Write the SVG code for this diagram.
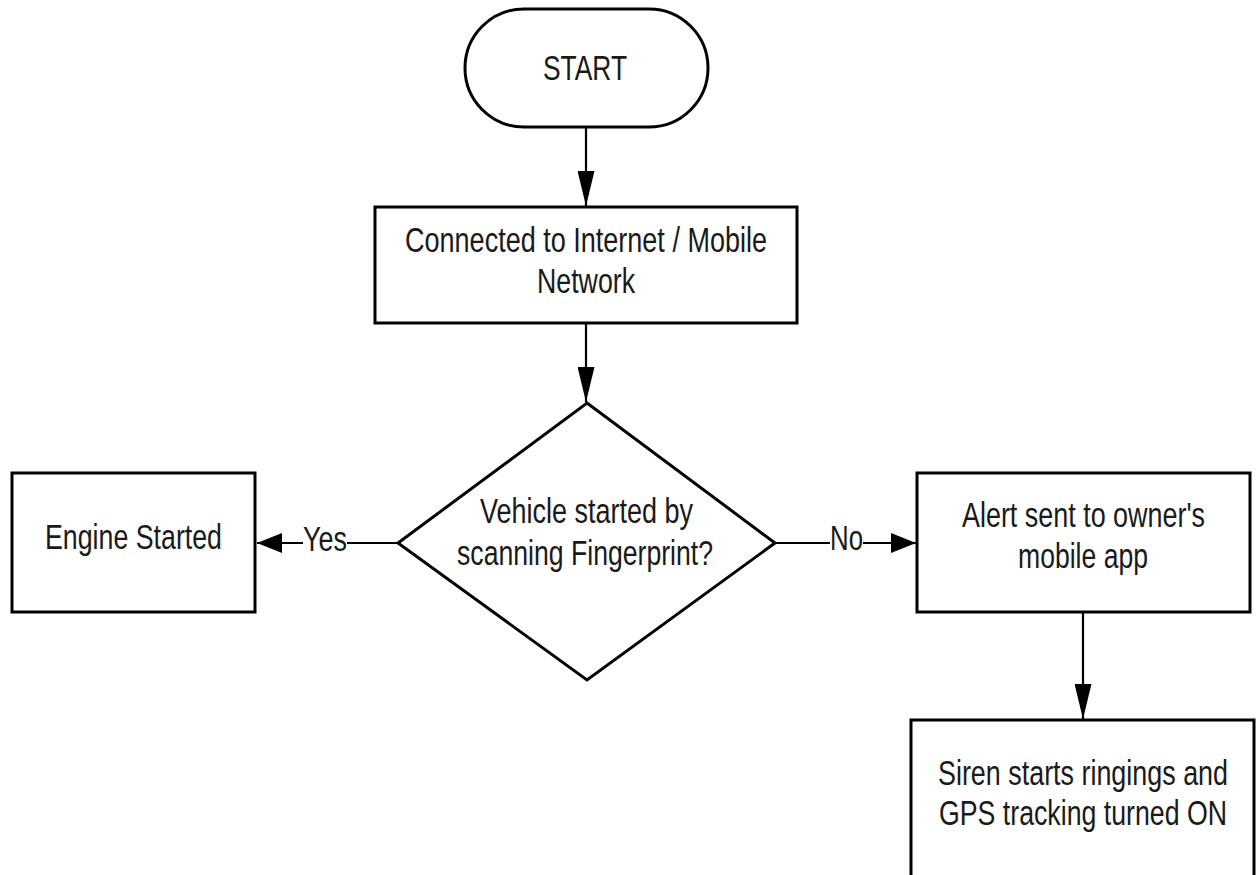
<svg xmlns="http://www.w3.org/2000/svg" width="1256" height="875" viewBox="0 0 1256 875">
  <style>
    .shape { fill: #ffffff; stroke: #000000; stroke-width: 3; }
    .conn { fill: none; stroke: #000000; stroke-width: 2.2; }
    .t { font-family: "Liberation Sans", Arial, sans-serif; font-size: 27px; fill: #1a1a1a; text-anchor: middle; }
    .lbl { fill: #ffffff; stroke: none; }
  </style>
  <defs>
    <marker id="ah" viewBox="0 0 25 20" refX="25" refY="10" markerWidth="25" markerHeight="20" markerUnits="userSpaceOnUse" orient="auto">
      <path d="M0,0 L25,10 L0,20 z" fill="#000000"/>
    </marker>
    <marker id="av" viewBox="0 0 35 17" refX="35" refY="8.5" markerWidth="35" markerHeight="17" markerUnits="userSpaceOnUse" orient="auto">
      <path d="M0,0 L35,8.5 L0,17 z" fill="#000000"/>
    </marker>
  </defs>
  <rect width="1256" height="875" fill="#ffffff"/>

  <g id="connectors">
    <line class="conn" x1="586" y1="127" x2="586" y2="206" marker-end="url(#av)"/>
    <line class="conn" x1="586" y1="323" x2="586" y2="402" marker-end="url(#av)"/>
    <line class="conn" x1="398" y1="543" x2="257" y2="543" marker-end="url(#ah)"/>
    <rect class="lbl" x="303" y="525" width="44" height="34"/>
    <text class="t" transform="translate(325,551) scale(1,1.3)" textLength="44" lengthAdjust="spacingAndGlyphs">Yes</text>
    <line class="conn" x1="775" y1="543" x2="916" y2="543" marker-end="url(#ah)"/>
    <rect class="lbl" x="830" y="525" width="33" height="34"/>
    <text class="t" transform="translate(846.5,550) scale(1,1.3)" textLength="33" lengthAdjust="spacingAndGlyphs">No</text>
    <line class="conn" x1="1083" y1="612" x2="1083" y2="719" marker-end="url(#av)"/>
  </g>

  <g id="start">
    <rect class="shape" x="465" y="9" width="243" height="118" rx="59" ry="59"/>
    <text class="t" transform="translate(585,80) scale(1,1.3)" textLength="84" lengthAdjust="spacingAndGlyphs">START</text>
  </g>

  <g id="connected">
    <rect class="shape" x="375" y="207" width="422" height="116"/>
    <text class="t" transform="translate(586,252) scale(1,1.3)" textLength="362" lengthAdjust="spacingAndGlyphs">Connected to Internet / Mobile</text>
    <text class="t" transform="translate(586,293) scale(1,1.3)" textLength="98" lengthAdjust="spacingAndGlyphs">Network</text>
  </g>

  <g id="decision">
    <polygon class="shape" points="587,403 775,543 587,680 398,543"/>
    <text class="t" transform="translate(586.5,523) scale(1,1.3)" textLength="213" lengthAdjust="spacingAndGlyphs">Vehicle started by</text>
    <text class="t" transform="translate(585,565) scale(1,1.3)" textLength="256" lengthAdjust="spacingAndGlyphs">scanning Fingerprint?</text>
  </g>

  <g id="engine">
    <rect class="shape" x="12" y="473" width="243" height="139"/>
    <text class="t" transform="translate(133.5,549) scale(1,1.3)" textLength="177" lengthAdjust="spacingAndGlyphs">Engine Started</text>
  </g>

  <g id="alert">
    <rect class="shape" x="917" y="473" width="333" height="139"/>
    <text class="t" transform="translate(1083.5,527) scale(1,1.3)" textLength="243" lengthAdjust="spacingAndGlyphs">Alert sent to owner's</text>
    <text class="t" transform="translate(1083,568) scale(1,1.3)" textLength="130" lengthAdjust="spacingAndGlyphs">mobile app</text>
  </g>

  <g id="siren">
    <rect class="shape" x="911" y="720" width="343" height="200"/>
    <text class="t" transform="translate(1083,785) scale(1,1.3)" textLength="290" lengthAdjust="spacingAndGlyphs">Siren starts ringings and</text>
    <text class="t" transform="translate(1083,825) scale(1,1.3)" textLength="288" lengthAdjust="spacingAndGlyphs">GPS tracking turned ON</text>
  </g>
</svg>
